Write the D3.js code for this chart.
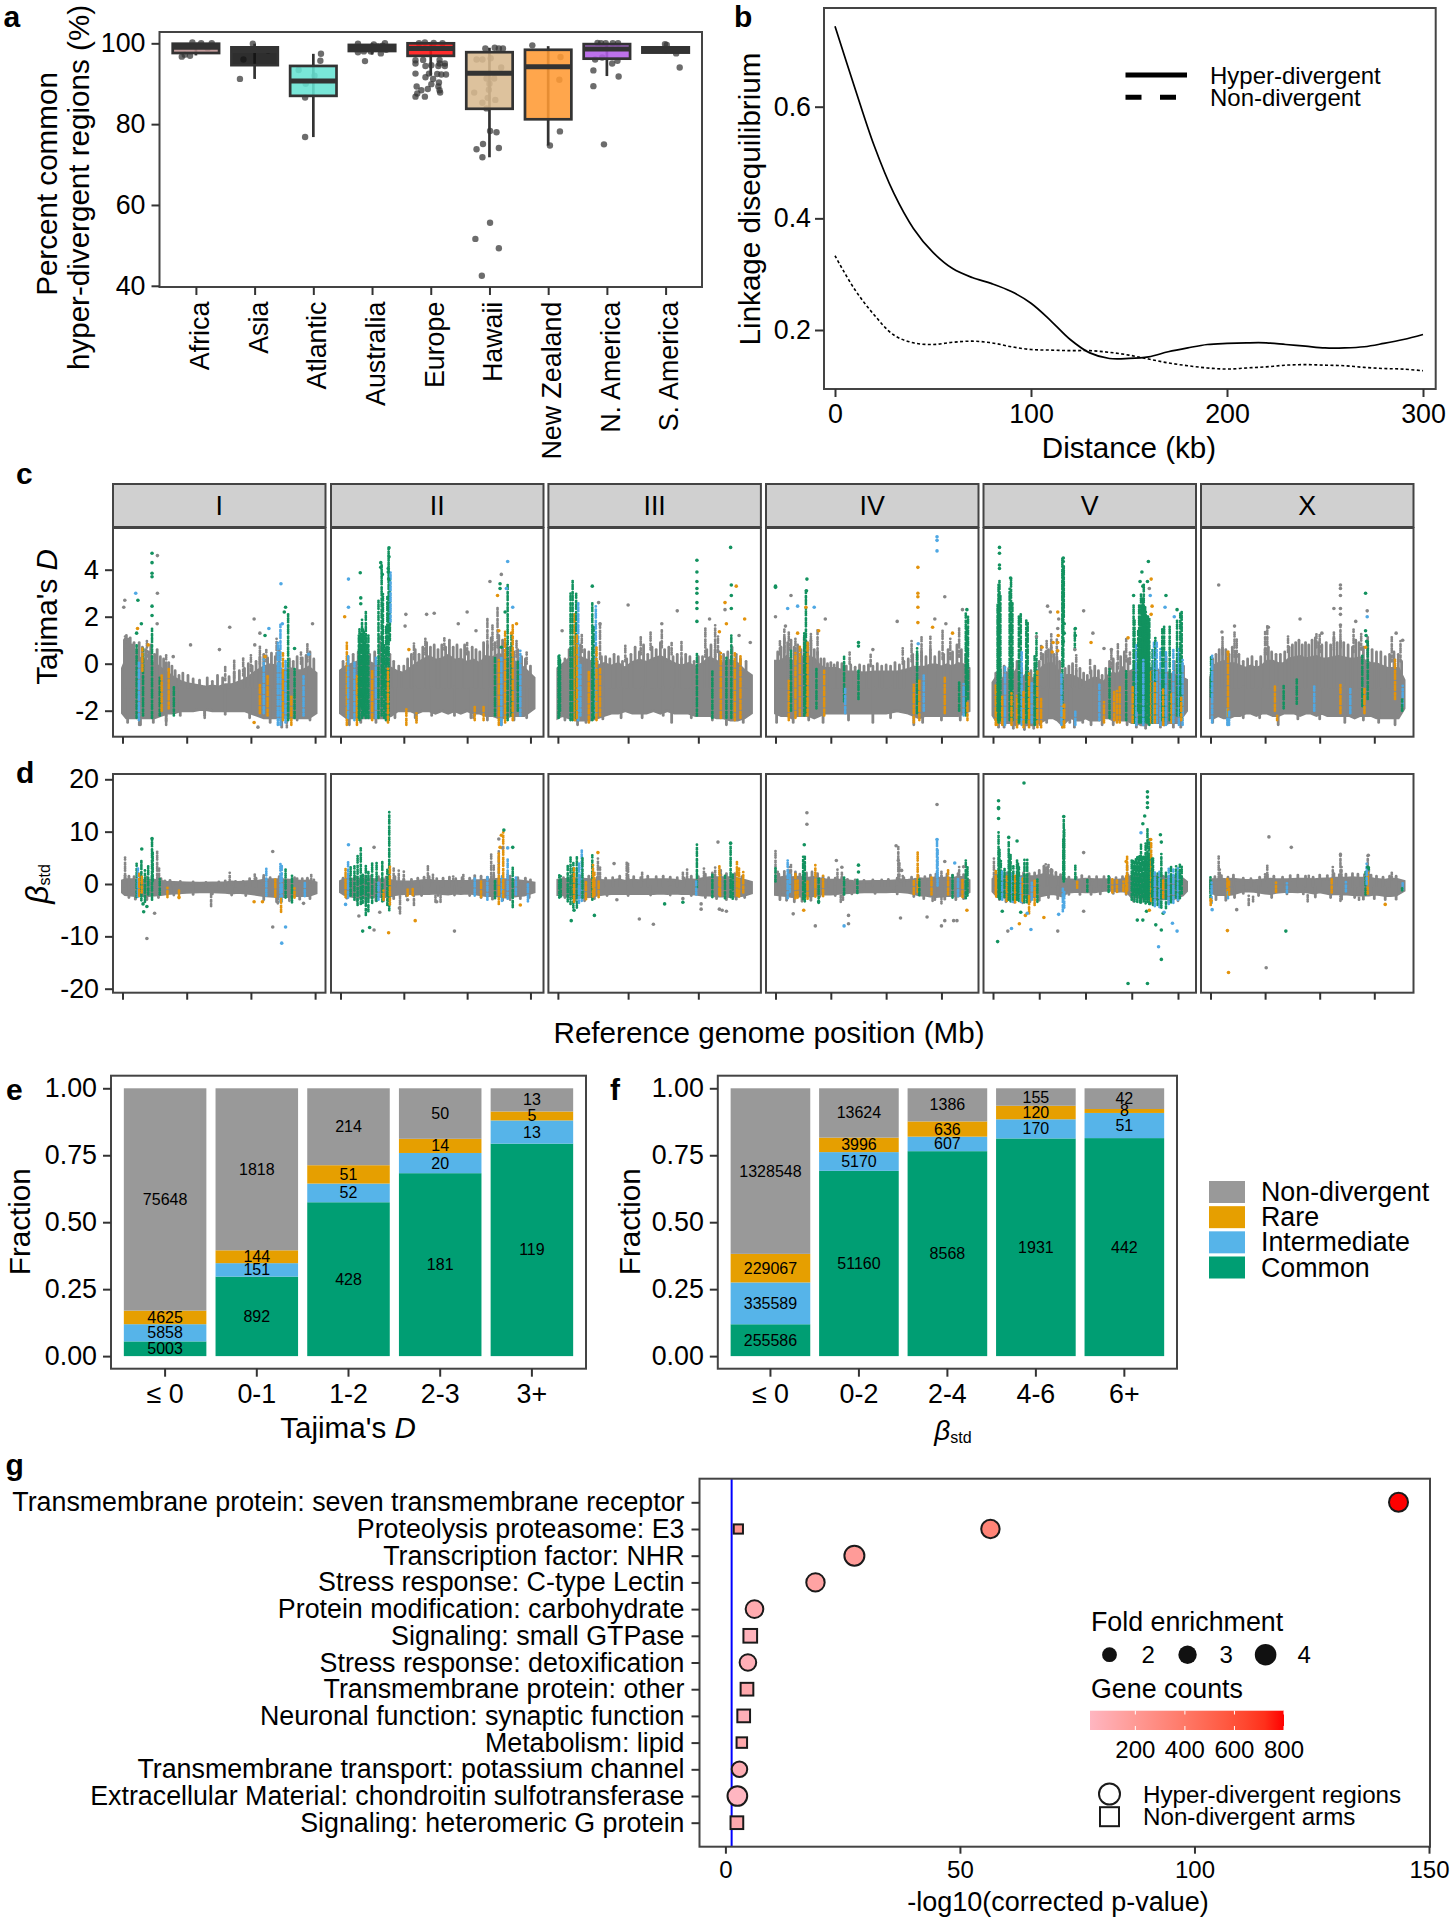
<!DOCTYPE html>
<html>
<head>
<meta charset="utf-8">
<script src="https://cdn.jsdelivr.net/npm/d3@7"></script>
<style>
html, body { margin: 0; padding: 0; background: #fff; }
svg { display: block; }
text { font-family: "Liberation Sans", Arial, sans-serif; fill: #000; }
</style>
</head>
<body>
<script>
// panel a
var regions = ["Africa", "Asia", "Atlantic", "Australia", "Europe", "Hawaii", "New Zealand", "N. America", "S. America"];
var regionFill = ["#bc8f8f", "#111111", "#66e3d3", "#333333", "#ff1010", "#d8b98f", "#ff9a33", "#b45ee8", "#333333"];
// low whisker, q1, median, q3, high whisker
var boxStats = [
  [97, 97.6, 99, 99.9, 100],
  [91.2, 94.6, 98.2, 99, 99.9],
  [76.8, 87, 90.7, 94.4, 97.4],
  [97.2, 98.1, 98.8, 99.6, 100],
  [92, 96.9, 98.7, 100, 100.2],
  [71.8, 83.8, 92.6, 97.8, 98.9],
  [74.7, 81.2, 94.2, 98.4, 99.3],
  [91.9, 96.2, 98.6, 99.8, 100.1],
  [97.5, 97.7, 98.3, 99, 99.4]
];
// [region index, jitter, percent]
var regionDots = [
  [0,-.24,96.7],[0,-.1,96.9],[0,-.06,100.2],[0,.09,100],[0,.27,100],[0,-.19,97.2],[0,.02,99.4],[0,.2,98.8],
  [1,-.25,91.2],[1,-.03,99.9],[1,-.19,96],[1,.23,98.2],
  [2,-.14,76.8],[2,.13,97.4],[2,.12,95.7],[2,-.14,86.6],[2,-.25,93.4],[2,-.13,90],[2,.02,92],
  [3,-.24,99.9],[3,-.12,95.6],[3,-.24,97.8],[3,-.14,98],[3,-.05,99],[3,.03,99.7],[3,.1,99.2],[3,.15,97.5],[3,.22,100],[3,.24,98.4],[3,-.02,98],[3,.18,99.4],
  [4,-.26,95],[4,-.26,92.5],[4,-.09,94.4],[4,-.13,95.9],[4,.01,94.6],[4,.13,94.4],[4,.24,95],[4,.15,95.9],[4,.18,92.3],[4,.26,92.3],[4,.11,92.4],[4,-.03,92.5],[4,-.09,91.6],[4,.04,91.2],[4,.14,90.3],[4,.01,89.9],[4,.13,89.3],[4,-.05,88.7],[4,-.16,88.4],[4,-.24,89.3],[4,-.23,87.6],[4,-.26,86.8],[4,-.1,86.8],[4,.16,87.8],[4,.15,88.4],[4,-.26,95.8],[4,.15,95],[4,.24,94.4],[4,-.2,100],[4,-.1,100.2],[4,.05,100.1],[4,.2,100],
  [5,-.07,98.7],[5,.09,98.9],[5,.16,98.7],[5,.23,98.7],[5,-.22,96],[5,-.12,96],[5,.02,96.3],[5,.2,94],[5,-.05,91.3],[5,.08,91.3],[5,0,90],[5,-.01,88.5],[5,-.26,87.8],[5,-.03,86.5],[5,.1,86],[5,-.12,85.3],[5,-.05,83.9],[5,.01,78.3],[5,.12,78],[5,-.11,75.1],[5,-.22,73.8],[5,.16,74.1],[5,-.12,71.8],[5,.01,55.6],[5,-.24,51.6],[5,.16,49.3],[5,-.13,42.5],
  [6,-.27,99.5],[6,.21,96.6],[6,.19,91],[6,.2,78.2],[6,.03,74.7],
  [7,-.23,93.3],[7,-.23,89.4],[7,-.05,75],[7,.2,91.8],[7,.09,95],[7,.18,95.7],[7,-.2,96],[7,-.1,100],[7,-.02,100],[7,.1,100],[7,.19,100],[7,-.16,100.1],[7,-.08,96.5],
  [8,-.01,99.8],[8,.02,99.6],[8,.18,97.5],[8,.24,94]
];

// panel b
var distanceKb = [0,10,20,30,40,50,60,70,80,90,100,110,120,130,140,150,160,170,180,190,200,210,220,230,240,250,260,270,280,290,300];
var hyperLd = [.744,.635,.53,.445,.382,.339,.31,.294,.283,.269,.248,.217,.183,.159,.149,.149,.152,.161,.168,.174,.176,.177,.177,.174,.171,.168,.168,.17,.176,.183,.192];
var nonLd = [.333,.273,.227,.191,.177,.174,.178,.18,.177,.17,.165,.164,.163,.163,.16,.155,.148,.141,.136,.132,.13,.132,.134,.137,.138,.137,.136,.133,.131,.13,.127];

// panels c and d
var chromosomes = ["I", "II", "III", "IV", "V", "X"];
var chromLength = [15.07, 15.28, 13.78, 17.49, 20.92, 17.72];
var chromTicks = [[0,5,10,15], [0,5,10,15], [0,5,10], [0,5,10,15], [0,5,10,15,20], [0,5,10,15]];
var classNames = ["Non-divergent", "Rare", "Intermediate", "Common"];
var classColor = ["#868686", "#e3930c", "#4fa8e4", "#12925f"];

// band rows: [Mb, low, high] of the solid grey mass
// fringe rows: [Mb, peak], rough edge of the mass
// streak rows: [Mb, class, low, high], dot rows: [Mb, class, value]
var tajimaBandI = [[0,-2.1,-.2],[.3,-2.3,.2],[.6,-2.3,.5],[1,-2.3,.3],[1.5,-2.3,.2],[2,-2.3,.1],[2.5,-2.3,0],[3,-2.2,-.2],[3.5,-2.1,-.4],[4,-2.1,-.6],[4.5,-2,-.75],[5,-2,-.85],[5.5,-2,-.9],[6,-1.95,-.95],[6.5,-1.95,-1],[7,-2,-.95],[7.5,-2,-1],[8,-2,-.9],[8.5,-2,-.9],[9,-2,-.8],[9.5,-2,-.7],[10,-2.1,-.5],[10.5,-2.2,-.3],[11,-2.3,-.15],[11.5,-2.3,-.05],[12,-2.3,-.1],[12.5,-2.3,-.3],[13,-2.3,-.2],[13.5,-2.3,-.3],[14,-2.3,-.3],[14.5,-2.3,-.15],[15.07,-2.1,-.4]];
var tajimaFringeI = [[.15,1],[.3,1.2],[.45,1],[.6,1.1],[.75,.8],[.9,.9],[1.1,.6],[1.3,.9],[1.55,.7],[1.8,.6],[2.05,.5],[2.2,.8],[2.5,.4],[2.7,.6],[2.95,.3],[3.2,.2],[3.4,0],[3.6,.05],[3.85,-.1],[4.1,-.3],[4.4,-.5],[4.7,-.4],[5.1,-.5],[5.5,-.65],[6,-.7],[6.6,-.6],[7,-.75],[7.4,-.5],[7.8,-.6],[8.3,-.55],[8.7,-.35],[9.1,-.3],[9.5,-.2],[9.8,0],[10.1,-.1],[10.4,.1],[10.7,.3],[11,.4],[11.3,.25],[11.6,.45],[11.9,.3],[12.2,.6],[13,.2],[13.3,.1],[13.6,.3],[14,.25],[14.3,.35],[14.6,.5],[14.9,.2],
  [.4,-2.5],[1.4,-2.6],[2.4,-2.5],[3.4,-2.45],[4.5,-2.2],[6.4,-2.2],[8,-2.15],[9.9,-2.3],[11.5,-2.5],[12.4,-2.7],[13.6,-2.4],[14.6,-2.4]];
var tajimaStreakI = [[.2,0,.5,1.2],[.45,0,.8,1.1],[1.9,0,.3,1],[3.4,0,-.2,.4],[8,0,-.7,-.1],[8.7,0,-.6,.2],[9.4,0,-.5,.3],[10,0,-.3,.4],[10.7,0,0,.8],[11.2,0,.1,.6],[13.9,0,0,.5],[14.4,0,.1,.9],[12,0,.2,1.1],[1.3,0,-2.6,-2.2],[3.4,0,-2.6,-2.2],[6.4,0,-2.3,-2],[12.8,0,-2.7,-2.3],
  [1.1,3,-2.3,.9],[1.6,3,-2.2,.7],[2.3,3,-2.3,1.5],[1.28,2,-2.4,.1],[1.55,1,-.3,.7],[2.9,3,-2.2,-.6],[3.05,1,-2,-.5],[3.6,1,-1.9,-.2],[4,3,-2.2,-1],[10.7,1,-2.1,-.9],[11,2,-2.1,.2],[11.3,1,-2.2,-.5],[12.1,2,-2.6,.9],[12.3,2,-2.6,1.7],[12.5,1,-2.4,.5],[12.7,2,-2.5,.2],[12.9,3,-2.4,2.1],[13.15,1,-2.6,-1.4],[13.4,3,-2.3,-.2],[14.1,2,-2.2,-.4]];
var tajimaDotI = [[2.3,3,4.7],[2.3,3,4.3],[2.3,3,3.85],[2.3,3,3.7],[2.3,3,2.45],[2.3,3,2.05],[2.72,0,4.6],[2.72,0,3],[2.7,0,1.7],[1.03,2,3],[1.2,3,2.7],[.18,0,2.7],[.1,0,2.4],[1.17,1,1.5],[1.47,3,1.7],[1.1,3,1.3],[12.34,2,3.4],[12.7,3,2.4],[12.6,3,2.2],[11.4,2,1.5],[12.45,2,1.7],[10.25,0,1.9],[8.35,0,1.55],[5.3,0,.8],[7.55,0,.6],[14.8,0,1.7],[10.7,0,1.3],[13.4,3,.65],[10.25,1,-2.5],[10.3,0,.8],[11.1,1,.3],[14.5,2,.4],[3.95,0,.3],[2,1,.8],[10.55,0,-2.7],[11.1,3,1.2]];

var tajimaBandII = [[0,-2.1,-.3],[.5,-2.3,-.1],[1,-2.3,0],[1.5,-2.3,.1],[2,-2.3,.1],[2.5,-2.3,0],[3,-2.3,-.1],[3.5,-2.3,0],[4,-2.2,-.2],[4.5,-2,-.35],[5,-2,-.4],[5.5,-2,-.2],[6,-2.1,0],[6.5,-2,.15],[7,-2,.3],[7.5,-2.1,.15],[8,-2,.2],[8.5,-2.1,.35],[9,-2,.15],[9.5,-2.1,.2],[10,-2,.05],[10.5,-2.1,.15],[11,-2.1,0],[11.5,-2.2,.3],[12,-2.2,.25],[12.5,-2.3,.4],[13,-2.3,.3],[13.5,-2.2,.15],[14,-2.2,0],[14.5,-2.2,-.2],[15.28,-1.9,-.6]];
var tajimaFringeII = [[.2,.1],[.6,.3],[1,.4],[1.4,.5],[1.9,.6],[2.3,.4],[2.7,.5],[3.1,.7],[3.6,.6],[3.9,.4],[4.2,.1],[4.6,-.1],[5,-.1],[5.3,.2],[5.6,.4],[5.9,.6],[6.2,.4],[6.5,.7],[6.8,.9],[7.1,.7],[7.4,.8],[7.7,.6],[8,.8],[8.3,.7],[8.6,1],[8.9,.7],[9.2,.8],[9.5,.6],[9.8,.8],[10.1,.5],[10.4,.7],[10.7,.6],[11,.5],[11.3,.9],[11.6,.8],[11.9,1.1],[12.2,.9],[12.5,1.2],[12.8,1],[13.1,.8],[13.4,.7],[13.7,.5],[14,.6],[14.3,.3],[14.6,.2],[15,-.1],
  [.7,-2.6],[1.6,-2.5],[2.8,-2.5],[3.6,-2.4],[4.3,-2.3],[5.9,-2.3],[7.2,-2.2],[9,-2.2],[10.3,-2.3],[11.6,-2.4],[12.7,-2.6],[13.7,-2.4],[14.7,-2.3]];
var tajimaStreakII = [[3.1,0,.2,1.2],[5.8,0,.2,.9],[6.7,0,.4,1.1],[8.2,0,.6,1.1],[10,0,.4,.9],[11.6,0,.7,1.9],[12,0,.6,1.7],[12.4,0,.7,2.4],[13.9,0,.3,1],[14.7,0,0,.5],[6,0,-2.4,-2.1],[10.5,0,-2.3,-2.1],
  [.5,1,-2.6,.9],[.6,2,-2.3,.4],[1.1,2,-2.4,.1],[1.3,1,-2.6,-.5],[1.45,3,-2.3,1.2],[1.5,3,-2.4,1.5],[1.6,3,-1.8,1.3],[1.7,3,-2.3,1.9],[1.78,3,-2.1,1.5],[1.85,3,-2.2,1.4],[1.93,3,-2,1],[2,3,-2.3,2.2],[2.1,3,-2.1,.9],[2.2,3,-2.3,1.2],[2.5,1,-2.4,-.3],[2.8,2,-2.3,.3],[3,3,-2.3,2.8],[3.25,3,-2.2,4.3],[3.35,3,-1,3],[3.45,3,-2.3,.9],[3.6,3,-2.4,1.6],[3.7,3,0,2.9],[3.8,3,-2.4,4.9],[3.9,3,1,3.6],[3.75,1,-2.5,-.2],[3.95,2,1.8,3.9],[5.2,1,-2.6,-1.9],[6,1,-2.5,-2.1],[10.6,1,-2.4,-1.8],[11.3,1,-2.4,-1.8],[12.2,3,-2.2,.3],[12.5,1,-2.6,.2],[12.7,2,-2.6,.3],[13,1,-2.5,1.4],[13.2,3,-2.4,3.4],[13.5,3,-2.2,1.3],[13.6,1,-2.4,1.7],[14,3,-2,.1],[14.2,2,-2.2,.6]];
var tajimaDotII = [[3.83,3,4.93],[3.83,3,4.55],[3.18,3,4.3],[3.18,3,4.1],[3.77,3,4.05],[3.77,3,3.9],[3.3,3,3.8],[3.8,3,3.6],[1.56,3,3.87],[.63,2,3.6],[.63,2,2.4],[.33,1,2],[1.6,3,2.8],[1.6,3,2.55],[13.2,2,4.35],[12.7,0,3.8],[11.8,0,3.5],[12.6,3,3.4],[12.6,3,3.2],[12.4,1,2.9],[13.1,2,3.2],[13.6,2,2.4],[13.9,1,1.7],[13.5,1,1.3],[5.16,0,2.1],[6.8,0,2.1],[7.4,0,2.15],[10.0,0,2.2],[9.3,0,1.7],[10.7,0,1.4],[5.1,0,1.6],[5.4,1,.6],[12.5,1,1.4],[13,3,2.2],[12.7,3,.7]];

var tajimaBandIII = [[0,-2.3,-.2],[.3,-2.2,-.05],[.8,-2.3,.2],[1.3,-2.4,.4],[1.8,-2.4,.2],[2.3,-2.4,.1],[2.8,-2.3,-.1],[3.3,-2.2,0],[3.8,-2.1,-.1],[4.3,-2.1,0],[4.8,-2,-.2],[5.3,-2.1,.05],[5.8,-2.1,.15],[6.3,-2.1,.05],[6.8,-2,.2],[7.3,-2.1,.3],[7.8,-2,.15],[8.3,-2.1,0],[8.8,-2.1,-.1],[9.3,-2.1,0],[9.8,-2.2,-.15],[10.3,-2.2,0],[10.8,-2.2,.25],[11.3,-2.3,.1],[11.8,-2.3,0],[12.3,-2.4,.15],[12.8,-2.4,0],[13.3,-2.3,-.3],[13.78,-2.1,-.5]];
var tajimaFringeIII = [[.1,.2],[.5,.2],[.8,.6],[1.1,.7],[1.3,.9],[1.6,.8],[1.9,.6],[2.2,.5],[2.5,.3],[2.8,.1],[3.1,.3],[3.4,.3],[3.7,.2],[4,.4],[4.3,.3],[4.6,.1],[4.9,.2],[5.2,.4],[5.5,.7],[5.8,.5],[6.1,.8],[6.4,.4],[6.7,.7],[7,.6],[7.3,.9],[7.6,.6],[7.9,.7],[8.2,.3],[8.5,.4],[8.8,.2],[9.1,.4],[9.4,.3],[9.7,.1],[10,.3],[10.3,.3],[10.6,.6],[10.9,.8],[11.2,.6],[11.5,.5],[11.8,.4],[12.1,.5],[12.4,.7],[12.7,.4],[13,.2],[13.4,.1],
  [.5,-2.4],[1.4,-2.6],[2,-2.5],[3.2,-2.35],[4.5,-2.3],[6,-2.3],[7.5,-2.2],[8.1,-2.5],[9.5,-2.3],[11,-2.4],[12,-2.6],[13.2,-2.5]];
var tajimaStreakIII = [[1.7,0,.5,1.3],[3,0,.2,1.7],[4.8,0,.1,.8],[5.9,0,.4,1.2],[6.6,0,.6,1.4],[7.4,0,.7,1.5],[8.1,0,.4,.9],[8.8,0,.2,1],[10.5,0,.3,1.6],[11.2,0,.3,1.7],[11.4,0,.5,1.2],
  [.05,3,-2.3,.4],[.1,3,-2.2,.35],[.15,3,-2,.2],[.9,3,-2.4,3],[1.05,3,-2.4,3.6],[1.2,1,-2.4,2.1],[1.3,3,-2.3,3],[1.45,2,-2.4,2.7],[1.35,1,-2.3,1.2],[1.6,2,-2.2,0],[2.2,1,-2.5,-.3],[2.45,3,-2.4,2.7],[2.55,3,-2.3,1.6],[2.7,2,-2.2,2.5],[2.75,1,-2.4,.7],[3,1,-2.2,-.2],[9.9,3,-2.2,.5],[11,3,-2.3,-.3],[11.6,1,-2.3,.5],[12,3,-2.3,.3],[12.35,3,-2.3,1.2],[12.6,1,-2.4,.5],[13,1,-2.3,.4]];
var tajimaDotIII = [[9.9,3,4.4],[9.9,3,3.9],[9.9,3,3.5],[9.9,3,3.2],[9.9,3,3],[9.9,3,2.6],[9.9,3,2.35],[9.9,3,1.8],[2.45,3,3.3],[12.3,3,4.95],[12.35,3,3.35],[12.35,3,2.9],[12.35,3,2.35],[12.7,1,3.3],[11.9,1,2.6],[12,1,1.7],[11.5,1,1.36],[11.9,0,2.3],[5,0,2.5],[8.5,0,2.25],[10.8,0,1.9],[2.9,0,2.6],[3,0,1.7],[.3,0,1.4],[7.4,0,1.7],[13.3,1,1.9],[13.7,0,.9],[12.9,0,1.2]];

var tajimaBandIV = [[0,-2.1,.1],[.5,-2.2,.1],[1,-2.2,.3],[1.5,-2.3,.1],[2,-2.2,.1],[2.5,-2.2,.3],[3,-2.2,.3],[3.5,-2.3,.2],[4,-2.2,-.1],[4.5,-2.1,-.2],[5,-2.1,-.2],[5.5,-2.1,-.2],[6,-2.1,-.3],[6.5,-2.1,-.35],[7,-2.1,-.35],[8,-2.1,-.4],[9,-2.1,-.35],[10,-2.1,-.35],[11,-2,-.35],[12,-2.1,-.25],[12.5,-2.2,-.15],[13,-2.3,-.15],[13.5,-2.2,-.15],[14,-2.2,-.05],[14.5,-2.2,-.05],[15,-2.2,-.15],[15.5,-2.2,-.05],[16,-2.2,-.15],[16.5,-2.2,0],[17,-2.1,-.05],[17.49,-2,-.2]];
var tajimaFringeIV = [[.2,.5],[.5,.7],[.8,1.1],[1.1,.9],[1.4,1],[1.7,.7],[2,.8],[2.3,.6],[2.6,1.1],[2.9,.9],[3.2,1],[3.5,.6],[3.8,.5],[4.1,.2],[4.4,.2],[4.7,0],[5,.05],[5.3,-.05],[5.6,.05],[6,0],[6.4,-.1],[6.8,-.05],[7.2,-.15],[7.6,-.05],[8,-.1],[8.4,-.05],[8.8,-.1],[9.2,0],[9.6,-.1],[10,-.05],[10.4,-.1],[10.8,.05],[11.2,-.05],[11.6,.1],[12,.2],[12.4,.4],[12.8,.4],[13.2,.5],[13.6,.3],[14,.6],[14.4,.3],[14.8,.5],[15.2,.4],[15.6,.6],[16,.5],[16.4,.8],[16.8,.6],[17.2,.4],
  [.1,-2.5],[1.6,-2.5],[3,-2.4],[4.3,-2.5],[6.6,-2.4],[8.8,-2.5],[10.4,-2.3],[12.5,-2.6],[13.3,-2.5],[15,-2.4],[16.7,-2.4]];
var tajimaStreakIV = [[.4,0,.4,1],[.8,0,.5,1.5],[1.2,0,.6,1.4],[1.8,0,.4,1.1],[3.2,0,.6,1.3],[3.8,0,.4,1.5],[6.7,0,0,.5],[8.6,0,-.1,.4],[11.5,0,0,.7],[12.3,0,.1,1],[13.2,0,.1,1.2],[14,0,.2,1.2],[15.1,0,.2,1.4],[15.8,0,.2,1.1],[16.6,0,.3,1.6],[1.2,1,-2.4,-.6],[1.8,1,-2.3,.5],[1.4,3,-2,.6],[2.2,1,-2.2,.8],[2.6,3,-2.2,1.3],[2.75,3,-2.1,3.1],[2.9,1,-2.2,.9],[3.7,3,-1.9,-.2],[4.4,1,-2.2,-.3],[6.2,3,-1.6,.35],[6.3,2,-2.1,-1],[7.5,3,-1.5,-.2],[12.5,1,-2.5,-.9],[12.8,3,-2.1,.7],[13,1,-2.4,-.6],[13.4,2,-2,-.5],[15.3,1,-2.1,-.5],[16.6,3,-2,-.7],[17.2,3,-2.2,2.2],[17.3,3,-1,1.6],[17.4,3,-1.5,2],[17.35,1,-2.4,-1.6],[17,2,-2.2,-.8]];
var tajimaDotIV = [[0,3,3.25],[0,3,3.3],[2.84,3,3.6],[2.8,3,3.1],[2.75,1,2.4],[12.87,1,4.1],[12.87,1,3],[12.87,1,2.85],[12.87,1,2.4],[12.87,1,1.75],[14.6,2,5.4],[14.6,2,5.25],[14.6,2,4.8],[15.3,0,2.85],[17.3,3,2.3],[1.1,2,2.35],[2,2,2.45],[3.5,2,2.4],[1.4,0,2.9],[0,0,2],[4.5,0,1.9],[11,0,1.8],[14.4,0,1.9],[16.9,0,2.3],[14.2,1,1.55],[16,1,1.3],[2,1,1.3],[7.5,3,.9],[7.5,3,.75],[8.8,0,.6],[12.9,2,.85],[3.9,1,1.4],[.9,0,1.6],[15.4,0,1.7]];

var tajimaBandV = [[0,-2.2,-.8],[.5,-2.5,-.5],[1,-2.5,-.7],[1.5,-2.5,-.4],[2,-2.5,-.6],[2.5,-2.6,-.3],[3,-2.5,-.7],[3.5,-2.6,-.5],[4,-2.6,-.7],[4.5,-2.6,-.6],[5,-2.5,-.3],[5.5,-2.4,-.1],[6,-2.3,0],[6.5,-2.3,0],[7,-2.4,-.3],[7.5,-2.6,-.7],[8,-2.4,-.5],[8.5,-2.3,-.5],[9,-2.4,-.6],[9.5,-2.4,-.7],[10,-2.3,-.8],[10.5,-2.4,-.7],[11,-2.4,-.6],[11.5,-2.4,-.7],[12,-2.3,-.8],[12.5,-2.3,-.5],[13,-2.4,-.4],[13.5,-2.4,-.5],[14,-2.4,-.2],[14.5,-2.4,-.4],[15,-2.5,-.3],[15.5,-2.5,-.2],[16,-2.6,-.2],[16.5,-2.6,-.1],[17,-2.5,-.2],[17.5,-2.5,-.2],[18,-2.5,-.3],[18.5,-2.6,-.4],[19,-2.5,-.4],[19.5,-2.5,-.5],[20,-2.5,-.5],[20.92,-2,-.7]];
var tajimaFringeV = [[.3,-.4],[.8,-.2],[1.2,-.1],[1.7,-.2],[2.1,0],[2.6,.1],[3.1,-.2],[3.6,-.1],[4.1,-.3],[4.6,-.1],[5,.1],[5.4,.4],[5.7,.5],[6,.6],[6.3,.7],[6.6,.4],[6.9,.3],[7.2,.1],[7.8,-.2],[8.2,-.1],[8.6,0],[9,-.3],[9.4,-.2],[9.8,-.4],[10.2,-.5],[10.6,-.3],[11,-.1],[11.4,-.3],[11.8,-.5],[12.2,-.2],[12.6,.1],[13,.2],[13.4,0],[13.8,.3],[14.2,.5],[14.6,.2],[18.7,.3],[19.6,.1],[20.6,-.1],
  [.6,-2.7],[1.2,-2.7],[2.2,-2.75],[3.4,-2.8],[4.4,-2.75],[5.1,-2.6],[5.8,-2.5],[7.5,-2.7],[8.3,-2.5],[8.8,-2.7],[9.7,-2.5],[10.6,-2.6],[11.8,-2.6],[13,-2.6],[14.5,-2.6],[15.5,-2.7],[16.5,-2.75],[18.1,-2.7],[19.5,-2.7],[20.3,-2.7]];
var tajimaStreakV = [[5.2,0,.2,.8],[5.8,0,.3,1],[6.3,0,.3,1.3],[6.9,0,0,1.1],[9,0,-.3,.4],[10.5,0,-.4,.2],[12.8,0,-.2,.6],[13.5,0,-.2,.9],[14.4,0,.1,1.1],[14.8,0,0,.5],
  [.3,1,-2.6,-.8],[.45,1,-2.6,-.9],[.55,3,-2.4,2.4],[.6,3,-2.5,3.4],[.65,3,-2,3],[.7,3,-2.4,3.6],[.8,3,-2.4,2.9],[.5,3,-2,2.6],[1,1,-2.6,-1.4],[1.3,2,-2.6,-.1],[1.8,3,-2.4,3.2],[1.95,3,-2.3,3.65],[2.1,3,-2.4,2.7],[2,1,-2.6,-1.2],[2.6,1,-2.7,-1.3],[2.8,3,-2.5,2.1],[3,3,-2.4,2.2],[3.1,2,-2.6,.6],[3.3,1,-2.7,-1.2],[3.6,3,-2.5,1.9],[3.75,3,-2.3,1.8],[3.9,1,-2.7,-.4],[4.2,2,-2.5,-.8],[4.5,3,-2.6,.4],[4.7,3,-2.4,1.3],[4.8,1,-2.7,-.3],[5.2,1,-2.7,-1.5],[7.5,3,-2.4,4.5],[7.6,3,-.1,4.15],[7.65,3,2,4.15],[7.55,3,1.5,3.6],[7.5,1,-2.7,-1.7],[7.7,1,-2.7,-1.7],[7.4,2,-2.6,-.4],[8.85,3,.6,1.5],[8.9,2,-2.6,-2],[11.5,2,-2.4,-.8],[12,1,-2.5,-1.6],[12.6,3,-2.3,-.2],[13.1,1,-2.4,-1.2],[13.4,1,-2.5,-1.1],[13.7,1,-2.5,-1],[14.4,3,-2.4,-.3],[15.2,3,-2.5,2.6],[15.3,3,-2.5,1.9],[15.1,1,-2.5,-1],[15.5,2,-2.6,.8],[15.7,3,-2,1.4],[15.8,3,-2.5,2.5],[15.9,3,-1.6,2],[16,3,-2.5,3],[16.08,3,-1.6,2.5],[16.15,3,-2.5,2.8],[16.22,3,-1.5,2.6],[16.3,3,-2.5,3.4],[16.38,3,-1.4,2.4],[16.45,3,-2.4,2.5],[16.52,3,-1.5,2.2],[16.6,3,-2.5,1.9],[16.68,3,-1.5,2],[16.75,3,-2.5,2.1],[16.82,3,-1.5,1.6],[16.9,3,-2.6,1.9],[16.25,2,-2.6,.2],[17.1,1,-2.5,-.3],[17.25,3,-2.5,.7],[17.4,2,-2.5,.9],[17.55,3,-2.4,1.1],[17.7,2,-2.5,.9],[17.5,1,-2.5,-.8],[18.1,2,-2.6,.7],[18.3,3,-2.4,1.5],[18.5,3,-2.4,1.6],[18.4,1,-2.6,-1.1],[18.7,2,-2.6,.5],[19.1,3,-2.4,1.6],[19.3,1,-2.5,-1.2],[19.5,2,-2.5,.6],[19.9,3,-2.2,1.9],[20.1,2,-2.6,.7],[20.25,3,-2.2,2.2],[20.4,3,-2.3,2.3],[20.5,2,-2.6,.2],[20.35,1,-2.4,-1.4]];
var tajimaDotV = [[.7,3,4.95],[.7,3,4.7],[.7,3,4.2],[.7,3,4.05],[1.9,3,3.65],[7.6,3,4.5],[7.6,3,4.35],[7.7,3,1.7],[7.7,3,1.3],[7.6,3,.95],[8.9,3,1.5],[8.9,3,1.2],[16.8,3,4.35],[16.1,3,3.9],[15.9,3,3.5],[16.2,3,3.3],[15.2,3,2.9],[16.7,3,3.5],[18.7,3,2.9],[17.1,1,3.6],[16.9,0,3.2],[17,2,2.9],[17.2,1,2.45],[17.1,1,2.1],[18.6,2,2.4],[19.6,2,2],[14.6,1,1.1],[19.9,3,2.3],[5.9,0,2.45],[4.7,0,1.15],[6.2,0,2.2],[7,1,2.2],[7.1,0,1.9],[7,0,1.5],[7.05,1,1.2],[9.8,0,2.25],[8.85,0,.6],[10.8,0,1.3],[10.6,1,.9],[12,0,.65],[12.8,0,.6],[6.5,1,.9],[6.4,1,.5],[7,1,.9],[5.3,1,.7],[7,1,.55]];

var tajimaBandX = [[0,-2.3,-.6],[.3,-2.3,-.1],[.7,-2.2,0],[1.2,-2.3,.1],[1.7,-2.3,0],[2.2,-2.2,0],[2.7,-2.2,-.1],[3.2,-2.1,-.2],[3.7,-2.1,-.1],[4.2,-2.2,-.2],[4.7,-2.1,-.1],[5.2,-2.1,.1],[5.7,-2.2,.1],[6.2,-2.2,0],[6.7,-2.1,0],[7.2,-2.1,.2],[7.7,-2.1,.25],[8.2,-2.2,.3],[8.7,-2.1,.2],[9.2,-2.1,.25],[9.7,-2.2,.3],[10.2,-2.1,.2],[10.7,-2.2,.2],[11.2,-2.2,.25],[11.7,-2.2,.3],[12.2,-2.2,.25],[12.7,-2.2,.2],[13.2,-2.3,.2],[13.7,-2.2,.25],[14.2,-2.2,.1],[14.7,-2.2,0],[15.2,-2.3,0],[15.7,-2.3,-.1],[16.2,-2.3,-.2],[16.7,-2.3,-.2],[17.2,-2.3,-.2],[17.72,-1.9,-.7]];
var tajimaFringeX = [[.2,.2],[.5,.4],[.8,.6],[1.1,.7],[1.4,.6],[1.7,.4],[2,.7],[2.3,.5],[2.6,.4],[3,.1],[3.4,.2],[3.8,.3],[4.2,.1],[4.6,.3],[5,.6],[5.3,.7],[5.6,.5],[6,.4],[6.4,.4],[6.8,.5],[7.2,.7],[7.5,.8],[7.8,.9],[8.1,1],[8.4,.8],[8.7,.9],[9,.8],[9.3,1],[9.6,1.1],[9.9,.9],[10.2,.8],[10.6,.9],[11,.8],[11.3,1.1],[11.6,.9],[11.9,1],[12.2,.9],[12.6,.8],[13,.7],[13.3,1],[13.6,.9],[14,.7],[14.4,.8],[14.8,.6],[15.2,.5],[15.6,.5],[16,.3],[16.4,.4],[16.8,.5],[17.2,.4],[17.5,.1],
  [.2,-2.5],[1.6,-2.6],[3,-2.3],[4.5,-2.3],[6.2,-2.6],[8,-2.35],[10,-2.35],[12.3,-2.5],[14,-2.4],[15.4,-2.5],[16.9,-2.6]];
var tajimaStreakX = [[1.1,0,.4,1.2],[2.2,0,.3,1.4],[2.4,0,.3,1.1],[5,0,.4,1.4],[5.2,0,.4,1.6],[7.1,0,.5,1.2],[9.7,0,.7,1.3],[10,0,.5,1.3],[11.3,0,.6,1.4],[11.9,0,.7,1.6],[13.1,0,.5,1.5],[13.8,0,.6,1.3],[14.4,0,.4,1.2],[16.6,0,.1,1.2],[17.4,0,.1,1],
  [.05,3,-1.4,.3],[.15,2,-2.5,.4],[1.55,2,-2.6,-1.9],[1.6,1,-2.2,.5],[1.7,2,-2.6,-2],[5.9,1,-2,-.9],[6.7,3,-1.9,-.9],[7.9,3,-1.7,-.6],[9.5,2,-2,-.9],[11.9,1,-2.1,-.9],[12.8,2,-2.1,-1],[13.9,3,-1.8,.4],[14.1,1,-2.1,-1],[14.4,3,-1.5,1],[17.6,2,-1.8,-.9],[17.55,3,-2,-1.5],[6.1,1,-2.4,-2.2],[16.9,1,-1.5,.2]];
var tajimaDotX = [[.75,0,3.35],[11.9,0,3.35],[11.9,0,3.2],[11.9,0,2.9],[11.3,0,2.35],[11.9,0,2.35],[11.9,0,2.1],[8.2,0,1.9],[13.3,0,1.8],[11.9,0,1.65],[14.2,3,3],[14.2,3,1.4],[14.25,3,1.2],[14.3,3,.95],[14.35,2,2],[14.35,0,2.25],[2.2,0,1.6],[1.05,0,1.35],[5.3,0,1.55],[10.2,0,1.3],[17,0,1.3],[17.6,0,1],[1.6,1,.5],[14.2,1,.7]];

var betaBandI = [[0,-1.6,.6],[.2,-2,.8],[.6,-2.1,.8],[1,-2.2,.8],[1.5,-2.2,.7],[2,-2.2,.7],[2.5,-2.1,.7],[3,-2,.5],[3.5,-1.8,.3],[4,-1.7,.3],[5,-1.6,.2],[6,-1.5,.15],[7,-1.5,.2],[8,-1.6,.2],[8.5,-1.7,.4],[9,-1.6,.3],[10,-1.8,.5],[10.5,-2,.5],[11,-2.2,.7],[11.5,-2.3,.8],[12,-2.4,.8],[12.5,-2.4,.8],[13,-2.4,.7],[13.5,-2.2,.6],[14,-2.2,.5],[14.5,-2.2,.6],[15.07,-1.7,.2]];
var betaFringeI = [[.2,1.6],[.5,1.5],[.9,1.4],[1.4,1.6],[1.9,1.3],[2.3,1.5],[3,1],[3.3,.6],[3.7,.7],[4.5,.5],[5.5,.4],[6.5,.3],[7.5,.4],[8,.6],[8.8,.5],[9.4,.5],[9.9,1],[10.4,1.1],[11,1.4],[11.5,1.2],[12.2,1.4],[13.4,1.2],[14,1],[14.4,1.1],[14.9,.8],
  [.5,-2.6],[1,-2.9],[1.9,-3],[2.8,-2.6],[4,-2.1],[5.5,-2],[7,-1.9],[8.5,-2.1],[9.6,-2.2],[11,-3],[12,-3.4],[13,-3.2],[13.8,-2.9],[14.6,-2.8]];
var betaStreakI = [[.2,0,.8,5.2],[2.7,0,.8,6.7],[2.85,0,.8,3],[8.35,0,.4,2.4],[6.9,0,-4.2,-1.6],[10.3,0,.7,2],[11,0,.8,1.9],[14.7,0,.6,1.9],[13.6,0,.7,1.3],[12.1,0,-3.7,-2.8],
  [1.1,3,-2.5,3.9],[1.2,2,-2.4,3],[1.3,1,-2.3,2],[1.47,3,-3.1,4.4],[1.5,1,-1.6,1.5],[1.75,3,-3.4,2.7],[2.3,3,-3,8.7],[2.35,3,.6,6.2],[2,3,-2,3.4],[2.9,3,-2,1],[3.5,1,-2.5,-.6],[4.4,1,-2.4,-1.2],[11.2,2,-2.2,2.9],[11.9,1,-2.4,1],[12.3,2,-3.4,3.9],[12.4,2,-3.3,3.8],[12.35,1,-5.3,-2.6],[12.7,3,-2.6,3],[13.2,3,-3.5,1.8],[13.4,1,-2.6,-.5],[14.2,2,-2.3,.5]];
var betaDotI = [[1.5,3,6.7],[2.3,3,8.7],[11.7,0,6.2],[1.9,0,-10.4],[2.5,0,-5.6],[1.9,3,-4.3],[1.65,3,-5.3],[12.4,2,-11.3],[12.7,2,-8.2],[11.7,0,-8.2],[10.25,1,-3.4],[10.9,1,-3.4],[4.4,1,-2.6],[1.6,3,-3.8],[14.1,0,-3.7]];

var betaBandII = [[0,-1.5,.5],[.3,-2,.8],[.8,-2.3,.9],[1.3,-2.5,.9],[1.8,-2.6,.9],[2.3,-2.5,.8],[2.8,-2.4,.8],[3.3,-2.4,.8],[3.8,-2.4,.7],[4.3,-2,.5],[5,-1.8,.4],[5.5,-1.8,.4],[6,-1.9,.5],[6.5,-1.8,.6],[7,-1.8,.7],[7.5,-1.7,.5],[8,-1.8,.5],[8.5,-1.9,.5],[9,-1.7,.5],[9.5,-1.8,.5],[10,-1.7,.5],[10.5,-1.8,.6],[11,-2,.6],[11.5,-2.2,.7],[12,-2.2,.8],[12.5,-2.3,.9],[13,-2.5,.8],[13.5,-2.4,.7],[14,-2.2,.6],[14.5,-2.1,.5],[15.28,-1.5,.2]];
var betaFringeII = [[.2,1.1],[.7,1.5],[1.2,1.4],[1.8,1.6],[2.4,1.5],[3,1.4],[3.6,1.3],[4.3,1.4],[5,.9],[5.6,.9],[6.1,1.1],[6.6,1.3],[7,1.4],[7.6,1],[8.1,1.1],[8.6,1.3],[9.1,1],[9.6,1.2],[10.2,1.1],[10.6,1.6],[11.1,1.5],[11.6,1.3],[12.1,1.6],[12.8,1.5],[13.4,1.5],[14,1.2],[14.6,1.1],[15,.8],
  [.5,-2.7],[1.3,-3.2],[2,-3.4],[2.8,-3.2],[3.4,-3.2],[4.2,-2.8],[5.2,-2.3],[6.4,-2.2],[7.7,-2.2],[9,-2.1],[10.2,-2.2],[11.1,-2.6],[12,-2.9],[12.8,-3.1],[13.4,-3],[14.2,-2.8],[14.9,-2.6]];
var betaStreakII = [[4.6,0,.8,2.8],[4.2,0,.8,3],[5,0,.6,2.7],[6.9,0,.9,3.5],[7.3,0,.9,2],[8.9,0,.6,1.7],[9.7,0,.6,1.8],[11.9,0,1,5.8],[12.1,0,1,3.5],[12.5,0,2,6.5],[13.2,0,1,2],[5.8,0,-4,-2],[4.7,0,-5.6,-2],[7.5,0,-3.4,-2.1],[7.9,0,-3.4,-2],
  [.4,1,-2.5,3.3],[.6,2,-2.6,4.4],[.8,3,-2.2,3.4],[1.1,3,-3,3.6],[1.35,3,-4,5.5],[1.6,3,-3.8,7],[1.75,3,-3.6,2],[2,3,-5.9,3.5],[2.2,3,-5.2,2.7],[2.5,3,-3.6,4.4],[2.85,3,-3.2,4],[3,2,-3,.8],[3.3,3,-3.3,4.6],[3.4,1,-3,-1],[3.7,3,-4,3],[3.85,3,-5,14],[3.9,1,-3.9,3.3],[5.3,1,-2.2,-1],[5.7,1,-2.1,-.8],[10.6,2,-2.2,1.1],[11.1,1,-2.5,.5],[11.6,2,-3,1.3],[12.2,3,-2.7,.9],[12.5,1,-3.8,5.8],[12.75,2,-3.2,1.8],[12.85,1,-2.5,10.2],[13.2,2,-2.8,4.9],[13.6,3,-4.4,3.3],[13.85,2,-2,1.6],[14.8,2,-3.3,.4]];
var betaDotII = [[.63,2,7.5],[.4,2,-3.9],[1.75,3,-9],[2.3,3,-8.3],[2.65,0,-8.8],[3.8,1,-9.3],[5.9,1,-7],[9,0,-9],[1.45,0,-6.1],[2.65,0,7],[4.65,0,-4.6],[12.9,3,10.3],[12.7,1,9.3],[12.5,0,8.6],[13.6,3,7],[13.2,2,6.9],[12.8,0,6.9],[14.2,1,-4],[12.6,1,7],[7.6,0,-3.4],[5.3,0,-3],[3.1,0,-5.4]];

var betaBandIII = [[0,-2,.7],[.3,-2,.8],[.8,-2.4,.9],[1.3,-2.5,1],[1.8,-2.5,.9],[2.3,-2.4,.8],[2.8,-2.1,.7],[3.3,-1.9,.6],[3.8,-1.8,.6],[4.3,-1.8,.8],[4.8,-1.8,.5],[5.3,-1.8,.7],[5.8,-1.8,.6],[6.3,-1.8,.8],[6.8,-1.8,.8],[7.3,-1.7,.8],[7.8,-1.8,.8],[8.3,-1.7,.7],[8.8,-1.8,.5],[9.3,-1.8,.8],[9.8,-1.9,.7],[10.3,-2.1,1],[10.8,-2.1,1.2],[11.3,-2.3,1.2],[11.8,-2.3,1.2],[12.3,-2.4,1.2],[12.8,-2.3,1],[13.3,-2.1,.7],[13.78,-1.7,.3]];
var betaFringeIII = [[.4,1.2],[1,1.7],[1.6,1.5],[2.2,1.5],[2.8,1.2],[3.4,1.1],[3.9,1.2],[4.4,1.5],[5,1.1],[5.4,1.4],[5.9,1.2],[6.4,1.5],[7,1.4],[7.5,1.5],[8,1.3],[8.5,1.2],[9,1.1],[9.5,1.5],[10,1.4],[10.5,1.9],[11,2.1],[11.6,1.9],[12,2],[12.6,2],[13.1,1.4],
  [.5,-2.6],[1.2,-3.1],[1.9,-3.2],[2.6,-2.8],[3.5,-2.2],[5,-2.2],[6.6,-2.1],[8,-2.1],[9.5,-2.2],[10.5,-2.6],[11.3,-2.8],[12,-3],[12.7,-2.9],[13.3,-2.6]];
var betaStreakIII = [[2.85,0,1,5.2],[3,0,1,3.2],[4.9,0,.8,4.5],[5,0,.6,4],[6,0,1,2.7],[8.9,0,1,2.7],[9.2,0,1,3],[10.4,0,1.2,3],[11.2,0,1.4,3.3],[11.6,0,1.5,3],
  [.1,3,-2.6,1.9],[.2,3,-2.4,1.7],[.7,3,-3.3,3.5],[.9,3,-3.8,5.2],[1.1,3,-4.5,4],[1.15,1,-3.4,3],[1.35,3,-4.5,5.6],[1.5,2,-3.6,4.4],[1.7,2,-3.2,6.8],[1.75,3,-2.6,5.3],[2,1,-2.9,.8],[2.45,3,-3,5.6],[2.5,1,-2.4,3.8],[2.6,1,-2.1,2.2],[2.9,1,-2.5,.6],[9.9,3,-.6,7.7],[9.85,2,-2,.9],[11,3,-2.5,2],[11.55,1,-2.2,2],[11.9,3,-2.7,1.7],[12.3,3,-2.5,7.8],[12.45,3,-2.8,1.8],[12.75,1,-2.2,4.4],[12.9,1,-2.4,3.5],[13.2,1,-1.6,2.4],[11.5,1,-2,3.6]];
var betaDotIII = [[.95,3,-7],[1.15,3,-5],[2.6,3,-6],[5.8,0,-6.7],[6.8,0,-7.7],[4,0,3.9],[2.85,1,6],[11.4,0,8],[12.3,3,7.8],[7.6,3,-3.8],[8.9,0,-2.8],[10.2,0,-3.8],[10.2,0,-4.8],[11.5,0,-4.8],[11.7,0,-5],[12,0,-5.2],[8.9,3,-3.5],[4.2,0,-3]];

var betaBandIV = [[0,-2,.9],[.5,-2.1,1.2],[1,-2.2,1.4],[1.5,-2.4,1.2],[2,-2.3,1.3],[2.5,-2.3,1.2],[3,-2.3,1.1],[3.5,-2.2,1.3],[4,-1.9,1],[4.5,-1.9,.8],[5,-1.9,.7],[6,-1.7,.7],[7,-1.6,.5],[8,-1.5,.45],[9,-1.5,.5],[10,-1.5,.5],[11,-1.4,.6],[12,-1.6,.7],[12.5,-1.8,.8],[13,-2.1,1],[13.5,-2.1,.9],[14,-2.3,1],[14.5,-2.4,1.2],[15,-2.3,1],[15.5,-2.2,1.2],[16,-2.2,1],[16.5,-2.3,1.3],[17,-2,1.2],[17.49,-1.5,.7]];
var betaFringeIV = [[.3,1.9],[.8,2.4],[1.3,2],[1.8,2.3],[2.2,1.9],[2.8,2.1],[3.3,2.3],[3.8,2],[4.3,1.4],[4.8,1.2],[5.4,1.1],[6,1.2],[6.5,.9],[7.2,.8],[8,.7],[8.8,.8],[9.6,.8],[10.2,.9],[11,1.1],[11.6,1.2],[12.3,1.3],[12.9,1.6],[13.5,1.4],[14,1.7],[14.5,1.9],[15,1.5],[15.5,1.9],[16,1.7],[16.5,2],[17,1.8],
  [.4,-3],[1,-3.1],[1.7,-3.4],[2.4,-3.3],[3.2,-3.1],[4,-2.4],[5.4,-2.2],[6.9,-1.9],[9,-1.8],[11,-1.9],[12.5,-2.4],[13.4,-2.8],[14.4,-3],[15.3,-2.9],[16.3,-3],[17,-2.8]];
var betaStreakIV = [[0,0,1.2,6.4],[.2,0,1.2,2.5],[1.2,0,1.5,3.6],[1.4,0,1.5,3.8],[5.6,0,1,3],[6,0,1,2.6],[11.1,0,.7,7.3],[11.2,0,.7,4],[11.5,0,.7,1.8],[15,0,1.2,2.8],[16.6,0,1.5,3.4],[6.1,0,-3,-1.8],[5.9,0,-3.4,-1.8],[14.2,0,-3.2,-2],[15,0,-3.7,-2],
  [0,3,.5,3.3],[1.1,2,-2.7,4.6],[1.3,2,-1.5,2.2],[1.8,1,-2.7,2.1],[2,1,-2.6,1.2],[2.5,3,-2.9,5.4],[2.65,3,-3.3,5.2],[2.9,1,-2.8,.9],[3.6,1,-2.4,3.6],[3.9,3,-3.6,1.2],[4.3,1,-2.3,1.9],[6.2,3,-2,1.8],[7.4,3,-1.7,.9],[12.5,1,-1.9,.8],[12.85,1,-1.5,6],[13,3,-2.1,1],[14.1,1,-2,1.5],[14.65,2,-.3,6.5],[14.6,2,1.3,8.5],[15.6,1,-2,2.9],[16,3,-2.6,1.7],[16.5,2,-2.3,1],[16.9,1,-2.5,1.3],[17.2,3,-2.7,4.6],[17.35,3,-2.2,3.5]];
var betaDotIV = [[2.84,0,13.6],[2.84,0,11.4],[14.6,0,15.2],[14.6,2,8.5],[2.6,3,7.5],[5.5,0,4.5],[6,0,3.2],[7.5,3,3.6],[7.5,3,2.3],[10.9,0,7.3],[11.1,0,4.5],[11.4,0,2.6],[16.2,2,4],[15.3,0,4.3],[17,0,3.3],[17.3,1,-5],[6.2,2,-8],[6.6,0,-7.6],[3.6,0,-8],[6.6,0,-6],[11.3,0,-6.5],[13.7,0,-6.3],[15,0,-8],[15.3,0,-7],[16.1,0,-7],[16.4,0,-7],[1.6,0,-5.7],[2.55,1,-5],[3.9,3,-3.4]];

var betaBandV = [[0,-1.4,.9],[.5,-2.4,1.5],[1,-2.5,1.4],[1.5,-2.5,1.4],[2,-2.5,1.2],[2.5,-2.5,1.4],[3,-2.4,1.4],[3.5,-2.5,1.5],[4,-2.5,1.4],[4.5,-2.4,1.4],[5,-2.3,1.6],[5.5,-2.1,1.8],[6,-1.9,1.6],[6.5,-1.8,1.4],[7,-2,1.3],[7.5,-2.3,1.2],[8,-1.6,.8],[9,-1.4,.7],[10,-1.5,.9],[11,-1.5,.8],[12,-1.2,.8],[13,-1.2,.7],[13.5,-1.4,.7],[14,-1.3,.8],[14.5,-1.5,1.1],[15,-2.5,1.5],[15.5,-2.5,1.6],[16,-2.6,1.6],[16.5,-2.8,1.7],[17,-2.8,1.7],[17.5,-2.8,1.5],[18,-2.8,1.6],[18.5,-2.8,1.4],[19,-2.7,1.3],[19.5,-2.8,1.5],[20,-2.5,1.4],[20.5,-2.1,1],[20.92,-1.3,.4]];
var betaFringeV = [[.3,1.8],[.9,2.2],[1.5,2.1],[2.1,2],[2.7,2.2],[3.3,2.1],[3.9,2],[4.5,2.1],[5,2.6],[5.5,3.4],[5.9,3.2],[6.3,2.8],[6.8,2.2],[7.3,1.8],[8.2,1.3],[9,1.3],[9.6,1.6],[10.4,1.4],[11.2,1.4],[12,1.4],[12.6,1.2],[13.3,1.2],[14,1.4],[14.6,1.7],
  [.7,-3],[1.4,-3.4],[2.3,-3.5],[3.2,-3.6],[4,-3.4],[5,-3.1],[6,-2.6],[7,-2.8],[8.2,-2],[9.4,-2],[10.6,-2],[11.6,-1.9],[13,-1.8],[14.4,-2],[15.2,-3.3],[16,-3.5],[17,-3.8],[18,-3.9],[19,-3.6],[20,-3.2]];
var betaStreakV = [[.1,0,1,5],[5.7,0,2,3.8],[6,0,1.5,3.8],[6.4,0,1.5,3],[14.5,0,1,3.5],
  [.3,1,-1.8,2.5],[.35,1,-2.4,1.2],[.6,3,-2.5,10],[.65,3,-1.5,6.5],[.7,3,-2.8,6.7],[.85,3,-2.8,4.4],[1,2,-3,2.5],[1.25,3,-2.5,3.3],[1.5,1,-3.2,1.6],[1.7,3,-3,8.4],[1.8,3,-1.5,5],[1.9,3,-3.3,5.7],[2.1,2,-3.4,2.3],[2.2,3,-3,3.6],[2.4,1,-3.5,1.8],[2.6,3,-3,4.6],[2.7,3,-1.5,4],[2.8,3,-3.2,3.2],[3,2,-3.4,1.4],[3.2,1,-3.2,1.2],[3.4,3,-3.5,4.6],[3.7,3,-3.5,4.8],[3.9,1,-5.6,-2],[4.2,2,-3,.8],[4.5,1,-4,1],[4.8,3,-3.4,1],[7.65,3,.5,12.9],[7.7,3,1,10.5],[7.6,3,1,9],[7.55,2,-5.2,-.9],[7.7,2,-4.5,-1.5],[8.9,3,1,3.7],[9.1,1,-.7,1],[10.2,3,-1.4,.9],[12.5,3,-1.5,1.5],[12.9,1,-1.6,.9],[13.4,1,-1.5,.8],[14.1,1,-1.3,.8],[14.5,1,-1.2,5.3],[14.4,1,-1.8,1.6],[15,3,-3,4.8],[15.15,3,-2,4.6],[15.3,3,-3.3,4.6],[15.45,3,-2,4.8],[15.6,3,-3.4,5.4],[15.75,3,-2,5.2],[15.9,3,-3.5,5.6],[16,3,-3.5,7.8],[16.15,3,-2.4,5.6],[16.3,3,-3.3,5.2],[16.4,3,-2.4,5.4],[16.5,3,-3.7,7.8],[16.6,3,-2.4,5.6],[16.7,3,-3.4,11],[16.8,3,-2.4,6],[16.9,3,-3.8,8.8],[17,3,-3.6,5.4],[17.1,1,-3.2,7.8],[17.2,3,-2.4,5],[17.3,3,-4,5.1],[17.5,2,-4.2,2.4],[17.8,3,-4,2],[18,2,-4.4,2.6],[18.2,3,-4.5,5.9],[18.4,1,-2.6,.9],[18.7,3,-4.6,2.5],[19,2,-3.8,3.2],[19.25,3,-3.5,3.4],[19.5,2,-3.6,2.9],[19.8,3,-2.6,3.7],[20,2,-3,3],[20.2,3,-2.7,3.8],[20.4,3,-1.8,3.5]];
var betaDotV = [[3.35,3,19.3],[.6,3,15.9],[.6,3,14.6],[.6,3,14.4],[.6,3,12.5],[1.7,3,8.9],[2.6,3,8.2],[7.65,3,12.9],[9.8,0,6],[14.4,1,4.3],[16.7,3,17.6],[16.7,3,16.6],[16.7,3,15.5],[16.7,3,14.6],[16.4,3,13],[16.2,3,11.5],[18.1,3,9.4],[18.2,3,8],[16,2,9.8],[17.05,1,8.5],[.5,3,-11],[1.6,0,-9],[7,0,-9],[2,2,-8.5],[4.1,2,-8.7],[2.85,1,-7.6],[3.5,1,-6],[5.5,1,-6.4],[7.1,2,-5.8],[14.6,3,-19],[16.7,3,-19],[17.9,2,-12],[18.2,3,-14.4],[18.2,3,-8.8],[19.4,2,-7.5],[19.9,2,-9],[15.6,3,-6.9],[16.2,3,-6.9],[17.6,3,-7.8],[18.4,3,-5.6],[9.8,0,-5.2],[16.6,3,-5.2],[16.9,1,-5],[18.5,2,-5.4],[1,3,-5.2],[3,3,-5.4],[3.7,2,-5.6]];

var betaBandX = [[0,-1.4,.8],[.5,-2,.8],[1,-2,.9],[1.5,-2,.8],[2,-1.9,.9],[3,-1.3,.7],[4,-1.4,.6],[5,-1.7,.8],[5.5,-1.8,.9],[6,-1.6,.8],[7,-1.4,.8],[8,-1.5,.9],[8.5,-1.4,.9],[9.5,-1.7,.8],[10,-1.5,.9],[11,-1.9,1],[11.5,-1.8,1.1],[12,-1.9,1.1],[12.5,-1.9,1.1],[13,-2,1.2],[13.5,-2.1,1.1],[14,-2.1,1.1],[14.5,-2.1,1.1],[15,-1.9,.9],[15.5,-2,.8],[16,-2.2,.7],[16.5,-2.2,.9],[17,-2.1,.9],[17.72,-1.2,.5]];
var betaFringeX = [[.4,1.4],[1,1.6],[1.6,1.3],[2.1,1.7],[3,1.1],[3.7,1],[4.5,1.3],[5.2,1.7],[5.8,1.5],[6.6,1.3],[7.3,1.6],[8,1.7],[8.7,1.5],[9.4,1.3],[10,1.7],[10.7,1.6],[11.3,2],[11.8,1.8],[12.4,1.9],[13,2],[13.5,1.9],[14.1,1.8],[14.7,1.7],[15.2,1.5],[15.8,1.3],[16.4,1.5],[17,1.5],
  [.5,-3],[1.4,-3.1],[2.2,-2.6],[3,-1.8],[4.4,-2.2],[5.6,-2.6],[7,-1.9],[8.5,-1.9],[9.6,-2.5],[11,-2.6],[12,-2.9],[13.2,-2.6],[14,-2.9],[15,-2.8],[16,-3],[17,-2.9]];
var betaStreakX = [[.75,0,1,5.5],[.85,0,1,3],[5.2,0,1,3.5],[5,0,1,2],[11.2,0,1.5,3.5],[11.9,0,1.5,6],[12,0,1.5,3.5],[14.4,0,1.5,5.4],[14.5,0,1.5,3],[9,0,1.2,2],[16.6,0,1,2.5],[3.9,0,-3.3,-2.2],[8.9,0,-3.3,-2],[11.9,0,-3.2,-2.2],[13.6,0,-3,-2.2],[3.5,0,-4,-2],
  [0,3,-2.6,1.6],[.1,2,-3.6,.5],[.02,1,-4,-2.6],[1.55,1,-2.3,1.4],[1.6,2,-2.7,-1],[1.7,1,-2,.9],[6,1,-1.5,.5],[7,2,-1.6,.3],[11.1,1,-1.6,1],[12.4,2,-1.4,.5],[14.2,3,-2,2.3],[14.4,1,-1.8,2.4],[14.3,2,0,4],[14.5,3,2.8,3.2],[17.6,2,-1,.2],[17.55,3,-1.2,-.5]];
var betaDotX = [[5.35,0,9],[7.4,0,7],[1.55,1,-8.9],[6.9,3,-9],[1.65,1,-16.9],[5.1,0,-16],[11.9,0,5.6],[14.45,0,5.5],[14.4,3,3.2],[16,1,-3.9],[.15,2,-4.9],[2.4,0,-4.9],[.05,1,-3.2]];

var tajimaBands = [tajimaBandI, tajimaBandII, tajimaBandIII, tajimaBandIV, tajimaBandV, tajimaBandX];
var tajimaFringes = [tajimaFringeI, tajimaFringeII, tajimaFringeIII, tajimaFringeIV, tajimaFringeV, tajimaFringeX];
var tajimaStreaks = [tajimaStreakI, tajimaStreakII, tajimaStreakIII, tajimaStreakIV, tajimaStreakV, tajimaStreakX];
var tajimaDots = [tajimaDotI, tajimaDotII, tajimaDotIII, tajimaDotIV, tajimaDotV, tajimaDotX];
var betaBands = [betaBandI, betaBandII, betaBandIII, betaBandIV, betaBandV, betaBandX];
var betaFringes = [betaFringeI, betaFringeII, betaFringeIII, betaFringeIV, betaFringeV, betaFringeX];
var betaStreaks = [betaStreakI, betaStreakII, betaStreakIII, betaStreakIV, betaStreakV, betaStreakX];
var betaDots = [betaDotI, betaDotII, betaDotIII, betaDotIV, betaDotV, betaDotX];

// panels e and f, counts per stacked class
var stackKeys = ["common", "intermediate", "rare", "nondivergent"];
var stackColor = {nondivergent: "#999999", rare: "#e69f00", intermediate: "#56b4e9", common: "#009e73"};
var tajimaBins = ["≤ 0", "0-1", "1-2", "2-3", "3+"];
var tajimaCommon = [5003, 892, 428, 181, 119];
var tajimaIntermediate = [5858, 151, 52, 20, 13];
var tajimaRare = [4625, 144, 51, 14, 5];
var tajimaNon = [75648, 1818, 214, 50, 13];
var betaBins = ["≤ 0", "0-2", "2-4", "4-6", "6+"];
var betaCommon = [255586, 51160, 8568, 1931, 442];
var betaIntermediate = [335589, 5170, 607, 170, 51];
var betaRare = [229067, 3996, 636, 120, 8];
var betaNon = [1328548, 13624, 1386, 155, 42];

// panel g
var geneClasses = ["Transmembrane protein: seven transmembrane receptor", "Proteolysis proteasome: E3", "Transcription factor: NHR", "Stress response: C-type Lectin", "Protein modification: carbohydrate", "Signaling: small GTPase", "Stress response: detoxification", "Transmembrane protein: other", "Neuronal function: synaptic function", "Metabolism: lipid", "Transmembrane transport: potassium channel", "Extracellular Material: chondroitin sulfotransferase", "Signaling: heteromeric G protein"];
// [class index, shape, -log10 p, fold enrichment, gene count]; shape 0 hyper-divergent, 1 non-divergent
var enrichment = [
  [0,0,143.5,3.2,800],[1,0,56.5,3,330],[1,1,2.76,.8,220],[2,0,27.5,3.5,190],[3,0,19.2,3,140],[4,0,6.2,2.8,90],
  [5,1,5.3,2.2,40],[6,0,4.8,2.5,60],[7,1,4.6,1.9,100],[8,1,3.9,1.9,60],[9,1,3.5,1.2,110],[10,0,3,2.2,70],[11,0,2.55,3.4,17],[12,1,2.45,1.9,100]
];
var foldLegend = [2, 3, 4];
var countTicks = [200, 400, 600, 800];

var width = 1451, height = 1920;
var axisColor = "#333333";
var tickSize = 26.8, titleSize = 29.6;

var svg = d3.select("body").append("svg")
  .attr("width", width)
  .attr("height", height);

function panelLetter(letter, x, y) {
  svg.append("text").attr("x", x).attr("y", y)
    .attr("font-size", 30).attr("font-weight", "bold").text(letter);
}

function styleAxis(sel, size) {
  sel.select(".domain").remove();
  sel.selectAll("line").attr("stroke", axisColor).attr("stroke-width", 2);
  sel.selectAll("text").attr("font-size", size || tickSize).attr("fill", "#000")
    .attr("font-family", '"Liberation Sans", Arial, sans-serif');
}

function frame(x0, y0, x1, y1) {
  svg.append("rect").attr("x", x0).attr("y", y0)
    .attr("width", x1 - x0).attr("height", y1 - y0)
    .attr("fill", "none").attr("stroke", "#444").attr("stroke-width", 2);
}

function title(txt, x, y, rotate, size) {
  return svg.append("text")
    .attr("transform", "translate(" + x + "," + y + ")" + (rotate ? " rotate(-90)" : ""))
    .attr("text-anchor", "middle").attr("dominant-baseline", "central")
    .attr("font-size", size || titleSize).text(txt);
}

/* ---------- a ---------- */
(function() {
  var x0 = 159.5, x1 = 702, y0 = 32, y1 = 287;
  var x = d3.scalePoint().domain(regions).range([x0, x1]).padding(.62);
  var y = d3.scaleLinear().domain([39.7, 102.8]).range([y1, y0]);
  var step = x.step();
  var boxW = step * .79;

  svg.append("g").selectAll("circle").data(regionDots).enter().append("circle")
    .attr("cx", function(d) { return x(regions[d[0]]) + d[1] * step; })
    .attr("cy", function(d) { return y(d[2]); })
    .attr("r", 3.2).attr("fill", "#333").attr("fill-opacity", .72);

  var boxes = svg.append("g").selectAll("g").data(boxStats).enter().append("g");
  boxes.append("line")
    .attr("x1", function(d, i) { return x(regions[i]); })
    .attr("x2", function(d, i) { return x(regions[i]); })
    .attr("y1", function(d) { return y(d[0]); })
    .attr("y2", function(d) { return y(d[4]); })
    .attr("stroke", axisColor).attr("stroke-width", 2.7);
  boxes.append("rect")
    .attr("x", function(d, i) { return x(regions[i]) - boxW / 2; })
    .attr("width", boxW)
    .attr("y", function(d) { return y(d[3]); })
    .attr("height", function(d) { return y(d[1]) - y(d[3]); })
    .attr("fill", function(d, i) { return regionFill[i]; })
    .attr("fill-opacity", .88)
    .attr("stroke", axisColor).attr("stroke-width", 2.7);
  boxes.append("line")
    .attr("x1", function(d, i) { return x(regions[i]) - boxW / 2; })
    .attr("x2", function(d, i) { return x(regions[i]) + boxW / 2; })
    .attr("y1", function(d) { return y(d[2]); })
    .attr("y2", function(d) { return y(d[2]); })
    .attr("stroke", axisColor).attr("stroke-width", 5);

  frame(x0, y0, x1, y1);
  svg.append("g").attr("transform", "translate(" + x0 + ",0)")
    .call(d3.axisLeft(y).tickValues([40, 60, 80, 100]).tickSize(8).tickPadding(6))
    .call(styleAxis);
  var xa = svg.append("g").attr("transform", "translate(0," + y1 + ")")
    .call(d3.axisBottom(x).tickSize(8))
    .call(styleAxis);
  xa.selectAll("text")
    .attr("transform", "rotate(-90)")
    .attr("text-anchor", "end")
    .attr("x", -14.7).attr("y", 3).attr("dy", ".35em");

  title("Percent common", 46, 184, true);
  title("hyper-divergent regions (%)", 78, 187.5, true);
  panelLetter("a", 3.5, 27);
})();

/* ---------- b ---------- */
(function() {
  var x0 = 824, x1 = 1435.7, y0 = 8, y1 = 389;
  var x = d3.scaleLinear().domain([0, 300]).range([835, 1423]);
  var y = d3.scaleLinear().domain([.2, .6]).range([330, 106.7]);
  var line = d3.line().curve(d3.curveCatmullRom)
    .x(function(d, i) { return x(distanceKb[i]); })
    .y(function(d) { return y(d); });

  svg.append("path").datum(hyperLd).attr("d", line)
    .attr("fill", "none").attr("stroke", "#000").attr("stroke-width", 1.7);
  svg.append("path").datum(nonLd).attr("d", line)
    .attr("fill", "none").attr("stroke", "#000").attr("stroke-width", 1.6)
    .attr("stroke-dasharray", "3 2.4");

  frame(x0, y0, x1, y1);
  svg.append("g").attr("transform", "translate(" + x0 + ",0)")
    .call(d3.axisLeft(y).tickValues([.2, .4, .6]).tickFormat(d3.format(".1f")).tickSize(9).tickPadding(4))
    .call(styleAxis);
  svg.append("g").attr("transform", "translate(0," + y1 + ")")
    .call(d3.axisBottom(x).tickValues([0, 100, 200, 300]).tickSize(8).tickPadding(7))
    .call(styleAxis);

  title("Linkage disequilibrium", 749, 199, true);
  title("Distance (kb)", 1129, 447, false);

  svg.append("line").attr("x1", 1125.5).attr("x2", 1187).attr("y1", 75).attr("y2", 75)
    .attr("stroke", "#000").attr("stroke-width", 5);
  svg.append("line").attr("x1", 1125.5).attr("x2", 1176).attr("y1", 97.3).attr("y2", 97.3)
    .attr("stroke", "#000").attr("stroke-width", 5).attr("stroke-dasharray", "16 18.5");
  svg.append("text").attr("x", 1210).attr("y", 75).attr("dominant-baseline", "central")
    .attr("font-size", 24).text("Hyper-divergent");
  svg.append("text").attr("x", 1210).attr("y", 97.3).attr("dominant-baseline", "central")
    .attr("font-size", 24).text("Non-divergent");
  panelLetter("b", 734, 27);
})();

/* ---------- c, d ---------- */
var panelLeft = [113, 331, 548.4, 766, 983.5, 1201];
var panelWidth = 212.5, panelInset = 9.5;

function genomePanel(i, y, y0, y1, mid, band, fringe, streaks, dots) {
  var left = panelLeft[i];
  var x = d3.scaleLinear().domain([0, chromLength[i]])
    .range([left + panelInset, left + panelWidth - panelInset]);
  var g = svg.append("g");
  var area = d3.area()
    .x(function(d) { return x(d[0]); })
    .y0(function(d) { return y(d[1]); })
    .y1(function(d) { return y(d[2]); });
  g.append("path").datum(band).attr("d", area)
    .attr("fill", classColor[0]).attr("stroke", classColor[0])
    .attr("stroke-width", 3);

  g.selectAll("line.fringe").data(fringe).enter().append("line")
    .attr("class", "fringe")
    .attr("x1", function(d) { return x(d[0]); })
    .attr("x2", function(d) { return x(d[0]); })
    .attr("y1", y(mid))
    .attr("y2", function(d) { return y(d[1]); })
    .attr("stroke", classColor[0])
    .attr("stroke-width", 2.8).attr("stroke-linecap", "round");

  g.selectAll("line.streak").data(streaks).enter().append("line")
    .attr("class", "streak")
    .attr("x1", function(d) { return x(d[0]); })
    .attr("x2", function(d) { return x(d[0]); })
    .attr("y1", function(d) { return y(d[2]); })
    .attr("y2", function(d) { return y(d[3]); })
    .attr("stroke", function(d) { return classColor[d[1]]; })
    .attr("stroke-width", 2.8).attr("stroke-linecap", "round")
    .attr("stroke-dasharray", "0 1.8 0 2.5 0 1.5 0 3.3 0 2");

  g.selectAll("circle").data(dots).enter().append("circle")
    .attr("cx", function(d) { return x(d[0]); })
    .attr("cy", function(d) { return y(d[2]); })
    .attr("r", 1.8)
    .attr("fill", function(d) { return classColor[d[1]]; });

  frame(left, y0, left + panelWidth, y1);
  svg.append("g").attr("transform", "translate(0," + y1 + ")")
    .call(d3.axisBottom(x).tickValues(chromTicks[i]).tickFormat("").tickSize(7))
    .call(styleAxis);
}

(function() {
  var y0 = 528, y1 = 736.7;
  var y = d3.scaleLinear().domain([-2, 4]).range([710.7, 569.7]);
  chromosomes.forEach(function(name, i) {
    genomePanel(i, y, y0, y1, -1, tajimaBands[i], tajimaFringes[i], tajimaStreaks[i], tajimaDots[i]);
    svg.append("rect").attr("x", panelLeft[i]).attr("y", 484)
      .attr("width", panelWidth).attr("height", 43)
      .attr("fill", "#d0d0d0").attr("stroke", "#444").attr("stroke-width", 2);
    svg.append("line").attr("x1", panelLeft[i]).attr("x2", panelLeft[i] + panelWidth)
      .attr("y1", 527.5).attr("y2", 527.5).attr("stroke", "#444").attr("stroke-width", 3);
    svg.append("text").attr("x", panelLeft[i] + panelWidth / 2).attr("y", 505.7)
      .attr("text-anchor", "middle").attr("dominant-baseline", "central")
      .attr("font-size", tickSize).text(name);
  });
  svg.append("g").attr("transform", "translate(113,0)")
    .call(d3.axisLeft(y).tickValues([-2, 0, 2, 4]).tickFormat(function(d) { return String(d); }).tickSize(8).tickPadding(6))
    .call(styleAxis);
  var t = title("Tajima's ", 46, 617, true);
  t.append("tspan").attr("font-style", "italic").text("D");
  panelLetter("c", 16, 484);
})();

(function() {
  var y0 = 774, y1 = 992.7;
  var y = d3.scaleLinear().domain([-20, 20]).range([988.7, 779.3]);
  chromosomes.forEach(function(name, i) {
    genomePanel(i, y, y0, y1, -.5, betaBands[i], betaFringes[i], betaStreaks[i], betaDots[i]);
  });
  svg.append("g").attr("transform", "translate(113,0)")
    .call(d3.axisLeft(y).tickValues([-20, -10, 0, 10, 20]).tickFormat(function(d) { return String(d); }).tickSize(8).tickPadding(6))
    .call(styleAxis);
  var t = title("", 37, 884, true);
  t.append("tspan").attr("font-style", "italic").attr("font-size", 32).text("β");
  t.append("tspan").attr("font-size", 16).attr("dy", 7).text("std");
  title("Reference genome position (Mb)", 769, 1032, false);
  panelLetter("d", 16, 783);
})();

/* ---------- e, f ---------- */
function stackedPanel(x0, x1, pad, bins, common, intermediate, rare, non) {
  var y0 = 1075.7, y1 = 1368.7;
  var rows = bins.map(function(b, i) {
    return {bin: b, common: common[i], intermediate: intermediate[i], rare: rare[i], nondivergent: non[i]};
  });
  var series = d3.stack().keys(stackKeys).offset(d3.stackOffsetExpand)(rows);
  var x = d3.scaleBand().domain(bins).range([x0, x1]).paddingInner(.1).paddingOuter(pad);
  var y = d3.scaleLinear().domain([-.047, 1.047]).range([y1, y0]);

  var groups = svg.append("g").selectAll("g").data(series).enter().append("g")
    .attr("fill", function(s) { return stackColor[s.key]; });
  groups.selectAll("rect").data(function(s) { return s; }).enter().append("rect")
    .attr("x", function(d) { return x(d.data.bin); })
    .attr("width", x.bandwidth())
    .attr("y", function(d) { return y(d[1]); })
    .attr("height", function(d) { return y(d[0]) - y(d[1]); });
  series.forEach(function(s) {
    svg.append("g").selectAll("text").data(s).enter().append("text")
      .attr("x", function(d) { return x(d.data.bin) + x.bandwidth() / 2; })
      .attr("y", function(d) { return y((d[0] + d[1]) / 2); })
      .attr("text-anchor", "middle").attr("dominant-baseline", "central")
      .attr("font-size", 16)
      .text(function(d) { return d.data[s.key]; });
  });

  frame(x0, y0, x1, y1);
  svg.append("g").attr("transform", "translate(" + x0 + ",0)")
    .call(d3.axisLeft(y).tickValues([0, .25, .5, .75, 1]).tickFormat(d3.format(".2f")).tickSize(8).tickPadding(6))
    .call(styleAxis);
  svg.append("g").attr("transform", "translate(0," + y1 + ")")
    .call(d3.axisBottom(x).tickSize(8).tickPadding(7))
    .call(styleAxis);
}

stackedPanel(111, 586, .14, tajimaBins, tajimaCommon, tajimaIntermediate, tajimaRare, tajimaNon);
stackedPanel(717.8, 1177, .145, betaBins, betaCommon, betaIntermediate, betaRare, betaNon);

title("Fraction", 19, 1221.7, true);
title("Fraction", 629, 1221.7, true);
var tajimaTitle = title("Tajima's ", 348, 1427, false);
tajimaTitle.append("tspan").attr("font-style", "italic").text("D");
var betaTitle = title("", 953, 1430, false);
betaTitle.append("tspan").attr("font-style", "italic").attr("font-size", 28).text("β");
betaTitle.append("tspan").attr("font-size", 16).attr("dy", 7).text("std");
panelLetter("e", 6, 1100);
panelLetter("f", 610, 1100);

// class legend
var legendOrder = [0, 1, 2, 3];
var legendKeys = ["nondivergent", "rare", "intermediate", "common"];
var legendY = d3.scaleLinear().domain([0, 3]).range([1192, 1267.5]);
svg.append("g").selectAll("rect").data(legendOrder).enter().append("rect")
  .attr("x", 1209).attr("width", 36)
  .attr("y", function(d) { return legendY(d) - 11; }).attr("height", 22)
  .attr("fill", function(d) { return stackColor[legendKeys[d]]; });
svg.append("g").selectAll("text").data(legendOrder).enter().append("text")
  .attr("x", 1261).attr("y", function(d) { return legendY(d); })
  .attr("dominant-baseline", "central").attr("font-size", tickSize)
  .text(function(d) { return classNames[d]; });

/* ---------- g ---------- */
(function() {
  var x0 = 699.5, x1 = 1430, y0 = 1478.7, y1 = 1846.7;
  var x = d3.scaleLinear().domain([0, 150]).range([725.4, 1429]);
  var y = d3.scalePoint().domain(geneClasses).range([1502.3, 1822.7]);
  var radius = d3.scaleLinear().domain([2, 3, 4]).range([7.4, 9.2, 10.8]);
  var color = d3.scaleLinear().domain([17, 800]).range(["#ffb6c1", "#ff0000"]).interpolate(d3.interpolateLab);

  svg.append("line").attr("x1", x(1.33)).attr("x2", x(1.33)).attr("y1", y0).attr("y2", y1)
    .attr("stroke", "#0000ff").attr("stroke-width", 2);

  var marks = svg.append("g").selectAll("g").data(enrichment).enter().append("g")
    .attr("transform", function(d) { return "translate(" + x(d[2]) + "," + y(geneClasses[d[0]]) + ")"; });
  marks.filter(function(d) { return d[1] === 0; }).append("circle")
    .attr("r", function(d) { return radius(d[3]); })
    .attr("fill", function(d) { return color(d[4]); })
    .attr("stroke", "#1a1a1a").attr("stroke-width", 2);
  marks.filter(function(d) { return d[1] === 1; }).append("rect")
    .attr("x", function(d) { return -radius(d[3]) * .88; })
    .attr("y", function(d) { return -radius(d[3]) * .88; })
    .attr("width", function(d) { return radius(d[3]) * 1.76; })
    .attr("height", function(d) { return radius(d[3]) * 1.76; })
    .attr("fill", function(d) { return color(d[4]); })
    .attr("stroke", "#1a1a1a").attr("stroke-width", 2);

  frame(x0, y0, x1, y1);
  svg.append("g").attr("transform", "translate(" + x0 + ",0)")
    .call(d3.axisLeft(y).tickSize(8).tickPadding(7))
    .call(styleAxis);
  svg.append("g").attr("transform", "translate(0," + y1 + ")")
    .call(d3.axisBottom(x).tickValues([0, 50, 100, 150]).tickSize(7).tickPadding(7))
    .call(function(s) { styleAxis(s, 24); });
  title("-log10(corrected p-value)", 1058, 1901.7, false, 27);

  // fold legend
  var foldX = d3.scalePoint().domain(foldLegend).range([1109.5, 1265.6]);
  svg.append("text").attr("x", 1091).attr("y", 1621.7).attr("dominant-baseline", "central")
    .attr("font-size", tickSize).text("Fold enrichment");
  svg.append("g").selectAll("circle").data(foldLegend).enter().append("circle")
    .attr("cx", function(d) { return foldX(d); }).attr("cy", 1654.7)
    .attr("r", function(d) { return radius(d); }).attr("fill", "#111");
  svg.append("g").selectAll("text").data(foldLegend).enter().append("text")
    .attr("x", function(d) { return foldX(d) + 38.7; }).attr("y", 1654.7)
    .attr("text-anchor", "middle").attr("dominant-baseline", "central")
    .attr("font-size", 24).text(function(d) { return d; });

  // colour bar
  svg.append("text").attr("x", 1091).attr("y", 1689).attr("dominant-baseline", "central")
    .attr("font-size", tickSize).text("Gene counts");
  var barX = d3.scaleLinear().domain([17, 800]).range([1090, 1284]);
  var grad = svg.append("defs").append("linearGradient").attr("id", "countGradient");
  d3.range(0, 1.01, .1).forEach(function(t) {
    grad.append("stop").attr("offset", t).attr("stop-color", color(17 + t * 783));
  });
  svg.append("rect").attr("x", 1090).attr("y", 1710.7).attr("width", 194).attr("height", 19.3)
    .attr("fill", "url(#countGradient)");
  svg.append("g").selectAll("line").data(countTicks).enter().append("line")
    .attr("x1", function(d) { return barX(d); }).attr("x2", function(d) { return barX(d); })
    .attr("y1", 1710.7).attr("y2", 1714.5).attr("stroke", "#fff").attr("stroke-width", 1);
  svg.append("g").selectAll("line").data(countTicks).enter().append("line")
    .attr("x1", function(d) { return barX(d); }).attr("x2", function(d) { return barX(d); })
    .attr("y1", 1726).attr("y2", 1730).attr("stroke", "#fff").attr("stroke-width", 1);
  svg.append("g").selectAll("text").data(countTicks).enter().append("text")
    .attr("x", function(d) { return barX(d); }).attr("y", 1749)
    .attr("text-anchor", "middle").attr("dominant-baseline", "central")
    .attr("font-size", 24).text(function(d) { return d; });

  // shape legend
  svg.append("circle").attr("cx", 1109.5).attr("cy", 1794).attr("r", 10.5)
    .attr("fill", "#fff").attr("stroke", "#1a1a1a").attr("stroke-width", 2);
  svg.append("rect").attr("x", 1100).attr("y", 1807.2).attr("width", 19).attr("height", 19)
    .attr("fill", "#fff").attr("stroke", "#1a1a1a").attr("stroke-width", 2);
  svg.append("text").attr("x", 1143).attr("y", 1794).attr("dominant-baseline", "central")
    .attr("font-size", 24.2).text("Hyper-divergent regions");
  svg.append("text").attr("x", 1143).attr("y", 1816.7).attr("dominant-baseline", "central")
    .attr("font-size", 24.2).text("Non-divergent arms");
  panelLetter("g", 5.5, 1475);
})();
</script>
</body>
</html>
